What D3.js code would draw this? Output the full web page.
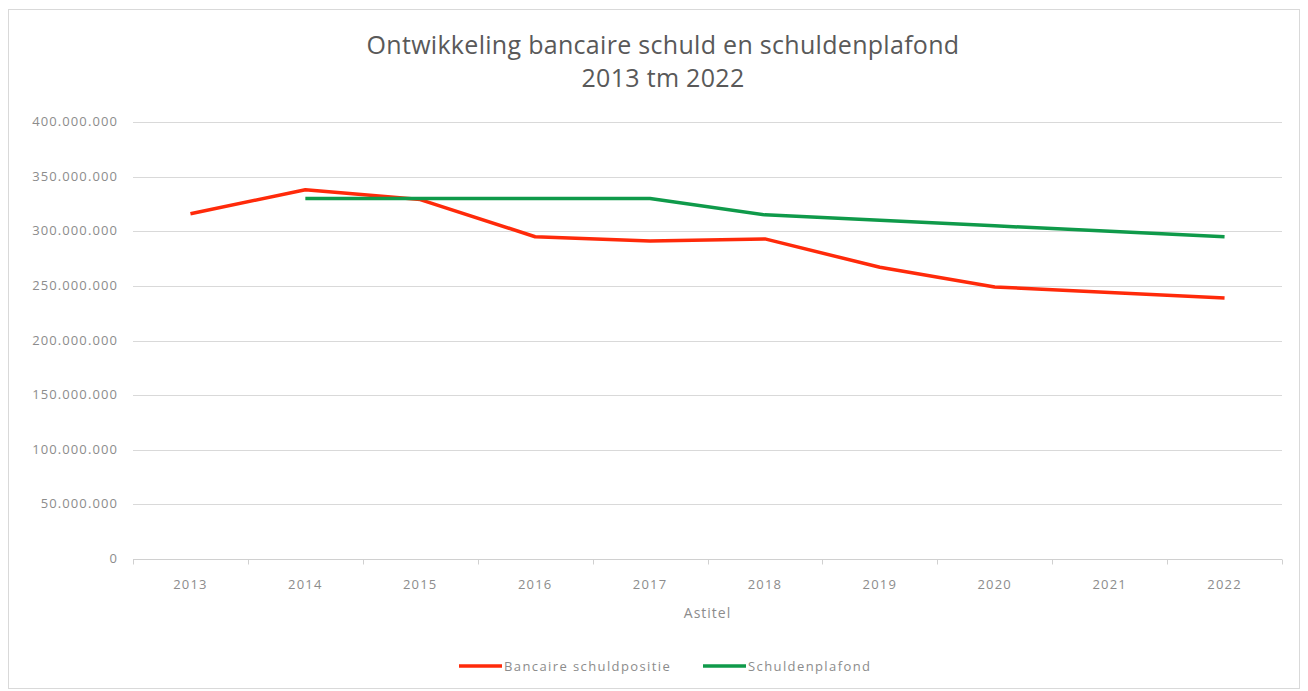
<!DOCTYPE html>
<html>
<head>
<meta charset="utf-8">
<script src="https://cdn.jsdelivr.net/npm/d3@7"></script>
<style>
  body { margin: 0; background: #fff; }
  svg { display: block; font-family: "Open Sans", "Noto Sans", sans-serif; }
</style>
</head>
<body>
<div id="chart"></div>
<script>
// data
const years = ['2013', '2014', '2015', '2016', '2017', '2018', '2019', '2020', '2021', '2022']
const bancaire = [316e6, 338e6, 329e6, 295e6, 291e6, 293e6, 267e6, 249e6, 244e6, 239e6]
const plafond = [null, 330e6, 330e6, 330e6, 330e6, 315e6, 310e6, 305e6, 300e6, 295e6]
const yTicks = [0, 50e6, 100e6, 150e6, 200e6, 250e6, 300e6, 350e6, 400e6]

const w = 1308
const h = 691
const margin = { top: 122, right: 26, bottom: 132, left: 133 }

const svg = d3.select('#chart')
  .append('svg')
  .attr('width', w)
  .attr('height', h)

// chart border
svg.append('rect')
  .attr('x', 8.5).attr('y', 9.5)
  .attr('width', w - 17).attr('height', h - 12)
  .attr('fill', '#fff')
  .attr('stroke', '#d9d9d9')

const x = d3.scaleBand()
  .domain(years)
  .range([margin.left, w - margin.right])

const y = d3.scaleLinear()
  .domain([0, 400e6])
  .range([h - margin.bottom, margin.top])

const fmt = v => d3.format(',')(v).replace(/,/g, '.')

// gridlines
svg.append('g')
  .selectAll('line')
  .data(yTicks.slice(1))
  .enter()
  .append('line')
  .attr('x1', margin.left)
  .attr('x2', w - margin.right)
  .attr('y1', d => Math.round(y(d)) + 0.5)
  .attr('y2', d => Math.round(y(d)) + 0.5)
  .style('stroke', '#d9d9d9')
  .style('stroke-width', 1)

// y labels
svg.append('g')
  .selectAll('text')
  .data(yTicks)
  .enter()
  .append('text')
  .attr('x', 118)
  .attr('y', d => y(d) + 4)
  .attr('text-anchor', 'end')
  .style('font-size', '13px')
  .style('letter-spacing', '1.1px')
  .style('fill', '#8c8c8c')
  .text(fmt)

// x axis
const xAxis = svg.append('g')
  .attr('transform', `translate(0,${Math.round(y(0)) + 0.5})`)

xAxis.append('line')
  .attr('x1', margin.left).attr('x2', w - margin.right)
  .style('stroke', '#d0d0d0')

xAxis.selectAll('.tick')
  .data(years.concat(['end']))
  .enter()
  .append('line')
  .attr('x1', (d, i) => Math.round(i < years.length ? x(d) : x.range()[1]) + 0.5)
  .attr('x2', (d, i) => Math.round(i < years.length ? x(d) : x.range()[1]) + 0.5)
  .attr('y1', 0).attr('y2', 5)
  .style('stroke', '#d0d0d0')

xAxis.selectAll('text')
  .data(years)
  .enter()
  .append('text')
  .attr('x', d => x(d) + x.bandwidth() / 2)
  .attr('y', 29)
  .attr('text-anchor', 'middle')
  .style('font-size', '13px')
  .style('letter-spacing', '1.2px')
  .style('fill', '#8c8c8c')
  .text(d => d)

svg.append('text')
  .attr('x', (margin.left + w - margin.right) / 2)
  .attr('y', 618)
  .attr('text-anchor', 'middle')
  .style('font-size', '14px')
  .style('letter-spacing', '1px')
  .style('fill', '#8c8c8c')
  .text('Astitel')

// title
svg.append('text')
  .attr('x', 663).attr('y', 54)
  .attr('text-anchor', 'middle')
  .style('font-size', '25px')
  .style('letter-spacing', '0.3px')
  .style('fill', '#595959')
  .text('Ontwikkeling bancaire schuld en schuldenplafond')
svg.append('text')
  .attr('x', 663).attr('y', 87)
  .attr('text-anchor', 'middle')
  .style('font-size', '25px')
  .style('letter-spacing', '0.3px')
  .style('fill', '#595959')
  .text('2013 tm 2022')

// lines
const line = d3.line()
  .defined(d => d.v != null)
  .x(d => x(d.year) + x.bandwidth() / 2)
  .y(d => y(d.v))

const series = [
  { name: 'Bancaire schuldpositie', color: '#ff2a0a', values: bancaire },
  { name: 'Schuldenplafond', color: '#0f9a4a', values: plafond }
]

svg.append('g')
  .selectAll('path')
  .data(series)
  .enter()
  .append('path')
  .attr('d', s => line(years.map((yr, i) => ({ year: yr, v: s.values[i] }))))
  .style('fill', 'none')
  .style('stroke', s => s.color)
  .style('stroke-width', 3.5)
  .style('stroke-linejoin', 'round')

// legend
const legendX = [459, 703]
const legend = svg.append('g')
  .selectAll('g')
  .data(series)
  .enter()
  .append('g')
  .attr('transform', (d, i) => `translate(${legendX[i]},666)`)

legend.append('line')
  .attr('x1', 0).attr('x2', 43)
  .style('stroke', d => d.color)
  .style('stroke-width', 3.5)

legend.append('text')
  .attr('x', 45).attr('y', 5)
  .style('font-size', '13px')
  .style('letter-spacing', '1.4px')
  .style('fill', '#8c8c8c')
  .text(d => d.name)
</script>
</body>
</html>
